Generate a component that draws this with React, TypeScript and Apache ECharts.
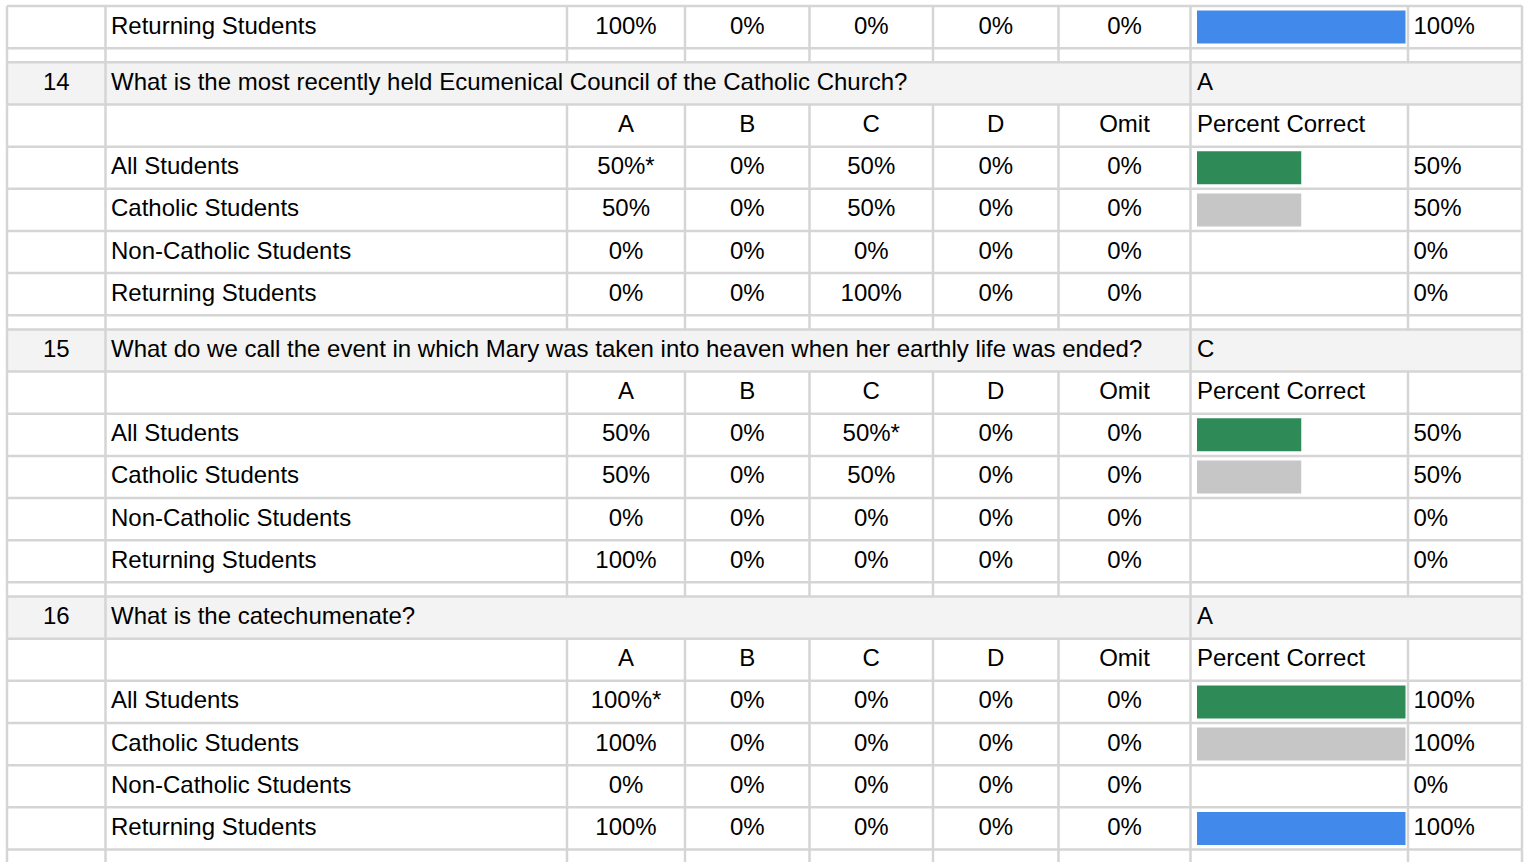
import React, { useEffect, useRef } from "react";
import * as echarts from "echarts";

// ---------- data ----------
const answerHeaders = ["A", "B", "C", "D", "Omit"];
const groupLabels = ["All Students", "Catholic Students", "Non-Catholic Students", "Returning Students"];

// tail of question 13 (only the last row is visible)
const q13Returning = [100, 0, 0, 0, 0];
const q13ReturningCorrect = 100;

const questionNumbers = ["14", "15", "16"];
const questionTexts = [
  "What is the most recently held Ecumenical Council of the Catholic Church?",
  "What do we call the event in which Mary was taken into heaven when her earthly life was ended?",
  "What is the catechumenate?",
];
const answerKeys = ["A", "C", "A"];

const q14Dist = [
  [50, 0, 50, 0, 0],
  [50, 0, 50, 0, 0],
  [0, 0, 0, 0, 0],
  [0, 0, 100, 0, 0],
];
const q14Correct = [50, 50, 0, 0];

const q15Dist = [
  [50, 0, 50, 0, 0],
  [50, 0, 50, 0, 0],
  [0, 0, 0, 0, 0],
  [100, 0, 0, 0, 0],
];
const q15Correct = [50, 50, 0, 0];

const q16Dist = [
  [100, 0, 0, 0, 0],
  [100, 0, 0, 0, 0],
  [0, 0, 0, 0, 0],
  [100, 0, 0, 0, 0],
];
const q16Correct = [100, 100, 0, 100];

const questionDists = [q14Dist, q15Dist, q16Dist];
const questionCorrect = [q14Correct, q15Correct, q16Correct];

// ---------- style / layout ----------
const groupColors = ["#2e8b57", "#c6c6c6", "#c6c6c6", "#4189eb"];
const LINE = "#d5d5d5";
const LW = 2.5;
const FONT = '24px "Liberation Sans", Arial, sans-serif';
const ROW_H = 42.15;
const SPACER = 14.2;
const FIRST_TOP = 6;
const colX = [7, 105.5, 567, 685, 809.5, 933, 1058.5, 1190.5, 1408, 1522];
const BAR_LEFT = 1197;
const BAR_W = 208.5;

type Row = {
  kind: "student" | "spacer" | "question" | "header";
  top: number;
  h: number;
  label?: string;
  vals?: number[];
  star?: number;
  correct?: number;
  num?: string;
  text?: string;
  key?: string;
};

function buildRows() {
  const rows: Row[] = [];
  const blocks: { top: number; labels: string[]; values: number[]; colors: string[] }[] = [];
  let y = FIRST_TOP;
  rows.push({ kind: "student", top: y, h: ROW_H, label: groupLabels[3], vals: q13Returning, star: -1, correct: q13ReturningCorrect });
  blocks.push({ top: y, labels: [groupLabels[3]], values: [q13ReturningCorrect], colors: [groupColors[3]] });
  y += ROW_H;
  rows.push({ kind: "spacer", top: y, h: SPACER });
  y += SPACER;
  questionNumbers.forEach((num, qi) => {
    rows.push({ kind: "question", top: y, h: ROW_H, num, text: questionTexts[qi], key: answerKeys[qi] });
    y += ROW_H;
    rows.push({ kind: "header", top: y, h: ROW_H });
    y += ROW_H;
    const keyIdx = answerHeaders.indexOf(answerKeys[qi]);
    blocks.push({ top: y, labels: groupLabels, values: questionCorrect[qi], colors: groupColors });
    groupLabels.forEach((g, gi) => {
      rows.push({
        kind: "student",
        top: y,
        h: ROW_H,
        label: g,
        vals: questionDists[qi][gi],
        star: gi === 0 ? keyIdx : -1,
        correct: questionCorrect[qi][gi],
      });
      y += ROW_H;
    });
    rows.push({ kind: "spacer", top: y, h: SPACER });
    y += SPACER;
  });
  return { rows, blocks };
}

function txt(x: number, y: number, text: string, align: string) {
  return {
    type: "text",
    z: 10,
    style: {
      x,
      y,
      text,
      fill: "#000",
      font: FONT,
      align,
      verticalAlign: "middle",
      textAlign: align,
      textVerticalAlign: "middle",
    },
  };
}

export default function App() {
  const ref = useRef<HTMLDivElement>(null);
  useEffect(() => {
    if (!ref.current) return;
    const chart = echarts.init(ref.current, undefined, { renderer: "svg" });
    const { rows, blocks } = buildRows();
    const g: any[] = [];
    const W = colX[9] - colX[0];

    rows.forEach((r) => {
      if (r.kind === "question") {
        g.push({ type: "rect", z: 0, shape: { x: colX[0], y: r.top, width: W, height: r.h }, style: { fill: "#f3f3f3" } });
      }
    });
    // lines
    rows.forEach((r) => {
      g.push({ type: "line", z: 1, shape: { x1: colX[0], y1: r.top, x2: colX[9], y2: r.top }, style: { stroke: LINE, lineWidth: LW } });
      const xs = r.kind === "question" ? [colX[0], colX[1], colX[7], colX[9]] : colX;
      xs.forEach((x) => {
        g.push({ type: "line", z: 1, shape: { x1: x, y1: r.top, x2: x, y2: r.top + r.h }, style: { stroke: LINE, lineWidth: LW } });
      });
    });
    // texts
    const ty = (r: Row) => r.top + r.h / 2 - 2;
    rows.forEach((r) => {
      const cy = ty(r);
      if (r.kind === "question") {
        g.push(txt((colX[0] + colX[1]) / 2, cy, r.num!, "center"));
        g.push(txt(colX[1] + 5.5, cy, r.text!, "left"));
        g.push(txt(colX[7] + 6.5, cy, r.key!, "left"));
      } else if (r.kind === "header") {
        answerHeaders.forEach((h, i) => g.push(txt((colX[2 + i] + colX[3 + i]) / 2, cy, h, "center")));
        g.push(txt(colX[7] + 6.5, cy, "Percent Correct", "left"));
      } else if (r.kind === "student") {
        g.push(txt(colX[1] + 5.5, cy, r.label!, "left"));
        r.vals!.forEach((v, i) => {
          const s = v + "%" + (i === r.star ? "*" : "");
          g.push(txt((colX[2 + i] + colX[3 + i]) / 2, cy, s, "center"));
        });
        g.push(txt(colX[8] + 5.5, cy, r.correct + "%", "left"));
      }
    });

    const grids: any[] = [];
    const xAxes: any[] = [];
    const yAxes: any[] = [];
    const series: any[] = [];
    blocks.forEach((b, i) => {
      grids.push({ left: BAR_LEFT, width: BAR_W, top: b.top, height: b.labels.length * ROW_H, containLabel: false });
      xAxes.push({ gridIndex: i, type: "value", min: 0, max: 100, show: false });
      yAxes.push({ gridIndex: i, type: "category", data: b.labels, inverse: true, show: false });
      series.push({
        type: "bar",
        xAxisIndex: i,
        yAxisIndex: i,
        barWidth: 33,
        z: 5,
        data: b.values.map((v, k) => ({ value: v, itemStyle: { color: b.colors[k] } })),
      });
    });

    chart.setOption({
      animation: false,
      backgroundColor: "#ffffff",
      grid: grids,
      xAxis: xAxes,
      yAxis: yAxes,
      series,
      graphic: { elements: g },
    });
    return () => chart.dispose();
  }, []);
  return (
    <div
      ref={ref}
      style={{ position: "fixed", left: 0, top: 0, width: 1528, height: 862, background: "#fff" }}
    />
  );
}
